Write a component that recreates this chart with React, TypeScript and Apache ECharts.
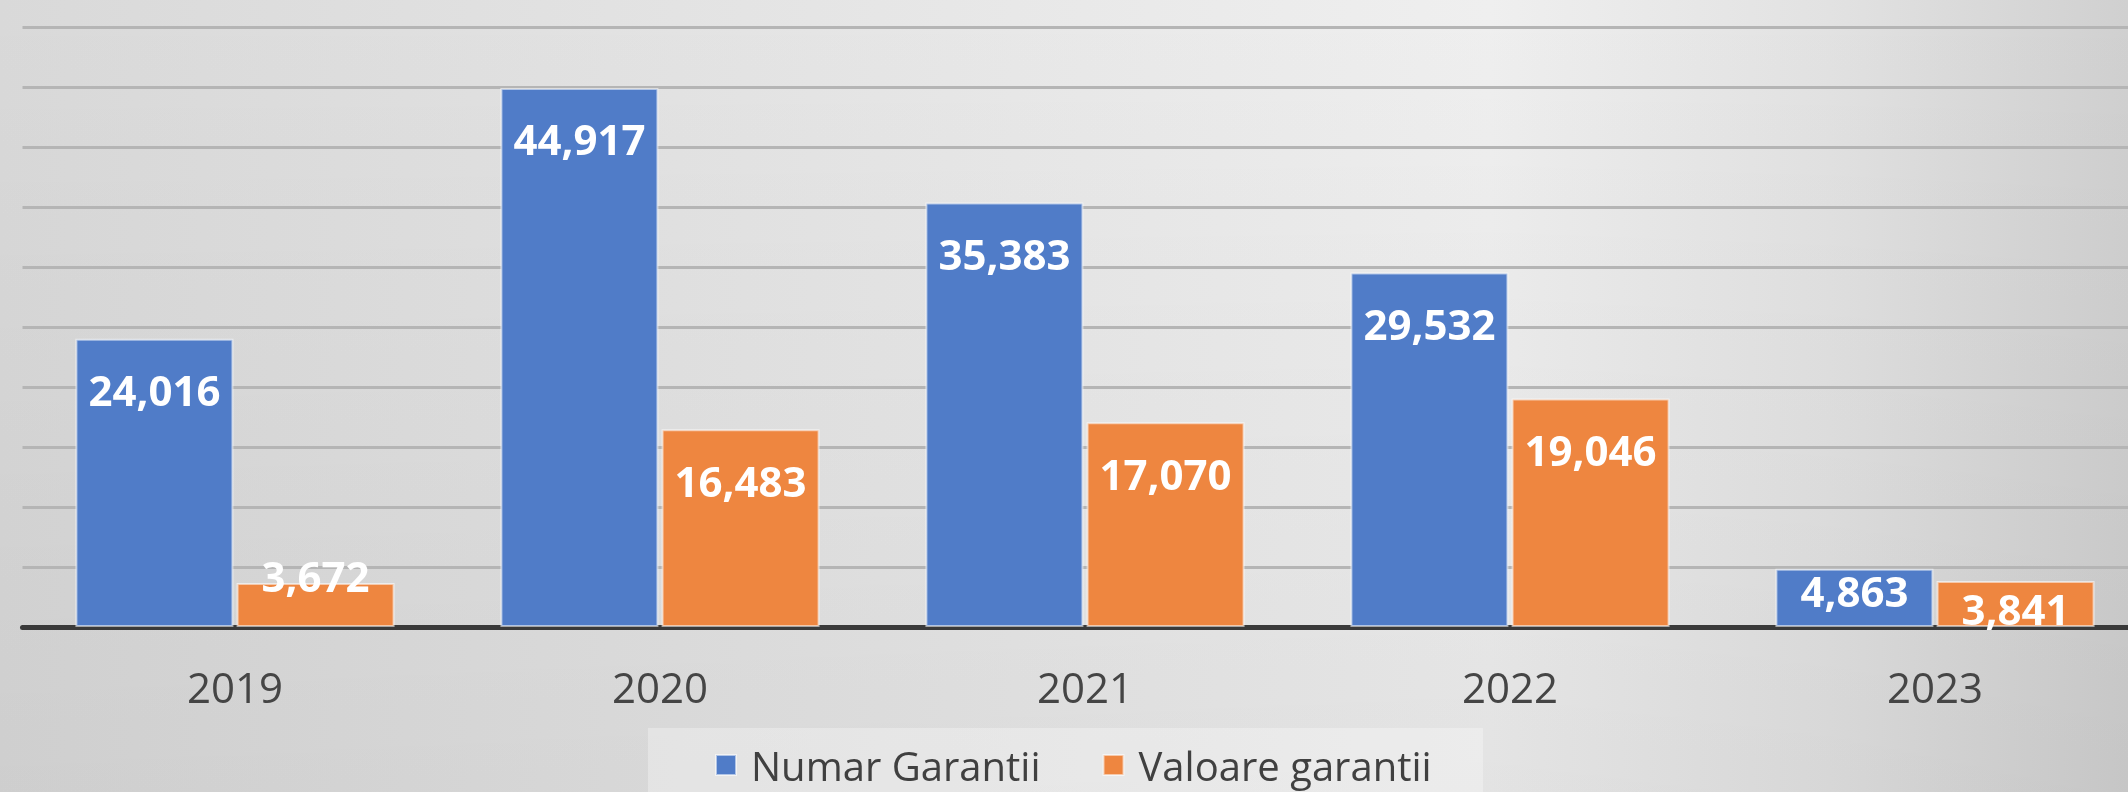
import React, { useEffect, useRef } from "react";
import * as echarts from "echarts";

const categories = ["2019", "2020", "2021", "2022", "2023"];
const seriesNames = ["Numar Garantii", "Valoare garantii"];
const numarGarantii = [24016, 44917, 35383, 29532, 4863];
const valoareGarantii = [3672, 16483, 17070, 19046, 3841];

const BLUE = "#507CC8";
const ORANGE = "#EE8640";
const FONT = "'Open Sans', 'Noto Sans', sans-serif";

// label vertical offset tweaks for short bars (style only)
const blueLabelOffsets = [0, 0, 0, 0, -29];
const orangeLabelOffsets = [-58, 0, 0, 0, -23];

function buildData(values: number[], offsets: number[]) {
  return values.map((v, i) =>
    offsets[i] ? { value: v, label: { offset: [0, offsets[i]] } } : { value: v }
  );
}

export default function App() {
  const ref = useRef<HTMLDivElement>(null);
  useEffect(() => {
    if (!ref.current) return;
    const chart = echarts.init(ref.current, undefined, { renderer: "svg" });
    const labelCfg = {
      show: true,
      position: "insideTop",
      distance: 30,
      color: "#FFFFFF",
      fontFamily: FONT,
      fontWeight: "bold",
      fontSize: 42,
      lineHeight: 42,
      formatter: (p: any) => Number(p.value).toLocaleString("en-US"),
    };
    chart.setOption({
      animation: false,
      backgroundColor: "transparent",
      graphic: [
        {
          type: "rect",
          z: -10,
          silent: true,
          shape: { x: 0, y: 0, width: 2160, height: 792 },
          style: {
            fill: {
              type: "linear",
              x: 0,
              y: 0,
              x2: 2128,
              y2: 0,
              global: true,
              colorStops: [
                { offset: 0, color: "#D9D9D9" },
                { offset: 0.35, color: "#E4E4E4" },
                { offset: 0.7, color: "#EFEFEF" },
                { offset: 0.86, color: "#E2E2E2" },
                { offset: 1, color: "#D0D0D0" },
              ],
            },
          },
        },
        {
          type: "rect",
          z: -9,
          silent: true,
          shape: { x: 0, y: 0, width: 2160, height: 792 },
          style: {
            fill: {
              type: "linear",
              x: 0,
              y: 0,
              x2: 0,
              y2: 1,
              colorStops: [
                { offset: 0, color: "rgba(0,0,0,0)" },
                { offset: 1, color: "rgba(0,0,0,0.05)" },
              ],
            },
          },
        },
        {
          type: "rect",
          z: -8,
          silent: true,
          shape: { x: 648, y: 728, width: 835, height: 64 },
          style: { fill: "rgba(255,255,255,0.3)" },
        },
      ],
      grid: { left: 22.5, top: 27, width: 2125, height: 600, containLabel: false },
      legend: {
        data: seriesNames,
        left: 715,
        top: 745,
        itemWidth: 20,
        itemHeight: 20,
        itemGap: 62,
        icon: "rect",
        padding: 0,
        textStyle: {
          fontFamily: FONT,
          fontSize: 40,
          lineHeight: 40,
          color: "#404040",
          padding: [0, 0, 0, 10],
        },
      },
      xAxis: {
        type: "category",
        data: categories,
        axisLine: { show: true, lineStyle: { color: "#3A3A3A", width: 5 } },
        axisTick: { show: false },
        axisLabel: {
          margin: 38,
          fontFamily: FONT,
          fontSize: 42,
          lineHeight: 42,
          color: "#454545",
        },
      },
      yAxis: {
        type: "value",
        min: 0,
        max: 50000,
        interval: 5000,
        axisLabel: { show: false },
        axisLine: { show: false },
        axisTick: { show: false },
        splitLine: { show: true, lineStyle: { color: "#B5B5B5", width: 3 } },
      },
      series: [
        {
          name: seriesNames[0],
          type: "bar",
          data: buildData(numarGarantii, blueLabelOffsets),
          barWidth: 158,
          barGap: "2%",
          itemStyle: { color: BLUE, borderColor: "rgba(255,255,255,0.55)", borderWidth: 2 },
          label: labelCfg,
        },
        {
          name: seriesNames[1],
          type: "bar",
          data: buildData(valoareGarantii, orangeLabelOffsets),
          barWidth: 158,
          barGap: "2%",
          itemStyle: { color: ORANGE, borderColor: "rgba(255,255,255,0.55)", borderWidth: 2 },
          label: labelCfg,
        },
      ],
    });
    return () => chart.dispose();
  }, []);
  return (
    <div
      style={{
        position: "fixed",
        left: 0,
        top: 0,
        width: 2128,
        height: 792,
        overflow: "hidden",
      }}
    >
      <div ref={ref} style={{ width: 2160, height: 792 }} />
    </div>
  );
}
